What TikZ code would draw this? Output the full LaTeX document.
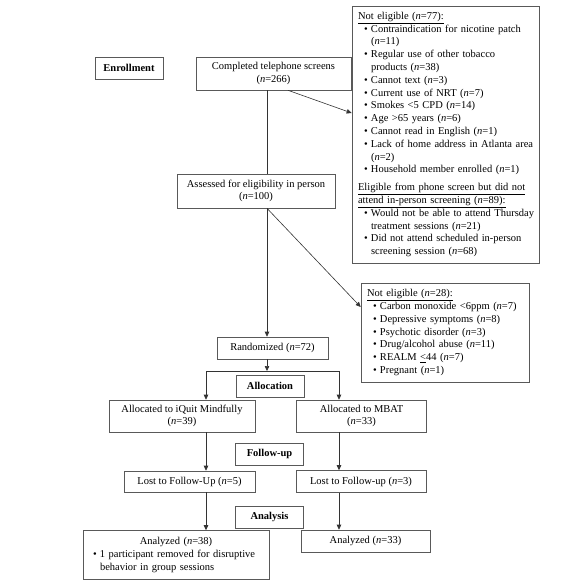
\documentclass[tikz,border=0pt]{standalone}
\usepackage{fontspec}
\setmainfont{Liberation Serif}
\usetikzlibrary{arrows.meta}
\newcommand{\ncount}[1]{(\textit{n}=#1)}
\newcommand{\bitem}[1]{\hspace*{6pt}\makebox[7pt][l]{\textbullet}\mbox{#1}}
\newcommand{\bcont}[1]{\hspace*{13pt}\mbox{#1}}
\tikzset{
    %Define standard arrow tip
    >={Triangle[length=5pt,width=4.5pt]},
    %Define style for boxes
    flowbox/.style={
           rectangle,
           draw=black!65, line width=0.6pt,
           inner sep=2pt,
           font=\fontsize{10.5}{12.8}\selectfont,
           align=center},
    stage/.style={
           flowbox,
           font=\fontsize{10.5}{12.8}\selectfont\bfseries,
           minimum width=68pt,
           minimum height=22pt},
    listbox/.style={
           flowbox,
           align=left,
           inner xsep=6pt},
    % Define arrow style
    pil/.style={
           ->,
           draw=black!80,
           line width=0.6pt},
    link/.style={
           draw=black!80,
           line width=0.6pt}
}
\begin{document}
\begin{tikzpicture}[x=1pt,y=-1pt]
\useasboundingbox (0,0) rectangle (582,583);
 %trunk and branch points
\coordinate (spine) at (267,0);
\coordinate (split) at (267,371);
\coordinate (lbranch) at (206,371);
\coordinate (rbranch) at (339,371);
 %stage labels
\node[stage] (enroll) at (129,68) {Enrollment};
\node[stage] (alloc) at (270,386) {Allocation};
\node[stage] (followup) at (269.5,454) {Follow-up};
\node[stage] (analysis) at (269.5,517) {Analysis};
 %nodes
\node[flowbox, minimum width=155pt, minimum height=33pt] (phone) at (273.5,73.5)
  {Completed telephone screens\\\ncount{266}};
\node[listbox, minimum width=187pt, minimum height=257pt, text width=175pt] (noelig1) at (445.5,134.5)
  {\underline{Not eligible \ncount{77}:}\\
   \bitem{Contraindication for nicotine patch}\\
   \bcont{\ncount{11}}\\
   \bitem{Regular use of other tobacco}\\
   \bcont{products \ncount{38}}\\
   \bitem{Cannot text \ncount{3}}\\
   \bitem{Current use of NRT \ncount{7}}\\
   \bitem{Smokes <5 CPD \ncount{14}}\\
   \bitem{Age >65 years \ncount{6}}\\
   \bitem{Cannot read in English \ncount{1}}\\
   \bitem{Lack of home address in Atlanta area}\\
   \bcont{\ncount{2}}\\
   \bitem{Household member enrolled \ncount{1}}\\[5pt]
   \underline{Eligible from phone screen but did not}\\
   \underline{attend in-person screening \ncount{89}:}\\
   \bitem{Would not be able to attend Thursday}\\
   \bcont{treatment sessions \ncount{21}}\\
   \bitem{Did not attend scheduled in-person}\\
   \bcont{screening session \ncount{68}}};
\node[flowbox, minimum width=158pt, minimum height=34pt] (assess) at (256,191)
  {Assessed for eligibility in person\\\ncount{100}};
\node[listbox, minimum width=168pt, minimum height=99pt, text width=156pt] (noelig2) at (445,332.5)
  {\underline{Not eligible \ncount{28}:}\\
   \bitem{Carbon monoxide <6ppm \ncount{7}}\\
   \bitem{Depressive symptoms \ncount{8}}\\
   \bitem{Psychotic disorder \ncount{3}}\\
   \bitem{Drug/alcohol abuse \ncount{11}}\\
   \bitem{REALM \underline{<}44 \ncount{7}}\\
   \bitem{Pregnant \ncount{1}}};
\node[flowbox, minimum width=111pt, minimum height=22pt] (random) at (272.5,348)
  {Randomized \ncount{72}};
\node[flowbox, minimum width=146pt, minimum height=32pt] (iquit) at (182,416)
  {Allocated to iQuit Mindfully\\\ncount{39}};
\node[flowbox, minimum width=130pt, minimum height=32pt] (mbat) at (361.5,416)
  {Allocated to MBAT\\\ncount{33}};
\node[flowbox, minimum width=131pt, minimum height=21pt] (lost1) at (189.5,481.5)
  {Lost to Follow-Up \ncount{5}};
\node[flowbox, minimum width=130pt, minimum height=22pt] (lost2) at (361,481.5)
  {Lost to Follow-up \ncount{3}};
\node[listbox, inner xsep=10pt, minimum width=186pt, minimum height=49pt, text width=166pt] (an1) at (176,555)
  {\makebox[166pt][c]{Analyzed \ncount{38}}\\
   \makebox[7pt][l]{\textbullet}1 participant removed for disruptive\\
   \hspace*{7pt}behavior in group sessions};
\node[flowbox, minimum width=129pt, minimum height=22pt] (an2) at (365.5,541)
  {Analyzed \ncount{33}};
 %connectors
\draw[link] (phone.south -| spine) -- (assess.north -| spine);
\draw[pil] ([xshift=14.5pt]phone.south) -- ([yshift=21.5pt]noelig1.west);
\draw[pil] (assess.south -| spine) -- (random.north -| spine);
\draw[pil] (assess.south -| spine) -- ([yshift=25.5pt]noelig2.west);
\draw[pil] (random.south -| spine) -- (split);
\draw[link] (lbranch) -- (rbranch);
\draw[pil] (lbranch) -- (iquit.north -| lbranch);
\draw[pil] (rbranch) -- (mbat.north -| rbranch);
\draw[pil] (iquit.south -| lbranch) -- (lost1.north -| lbranch);
\draw[pil] (lost1.south -| lbranch) -- (an1.north -| lbranch);
\draw[pil] (mbat.south -| rbranch) -- (lost2.north -| rbranch);
\draw[pil] (lost2.south -| rbranch) -- (an2.north -| rbranch);
\end{tikzpicture}
\end{document}
